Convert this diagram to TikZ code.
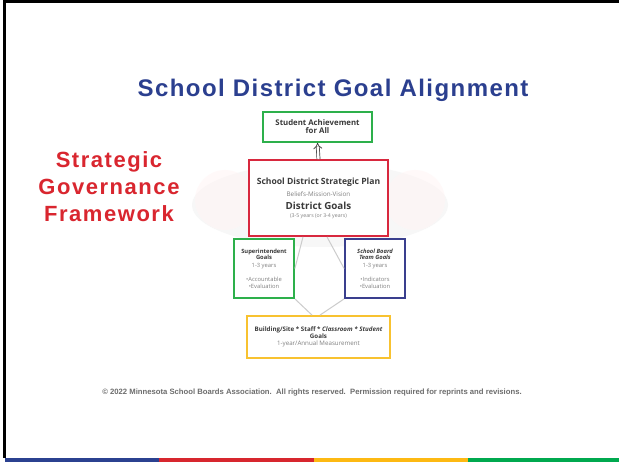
\documentclass[tikz,border=0pt]{standalone}
\usepackage{fontspec}
\setmainfont{Liberation Sans}
\newfontfamily\boxfont{Open Sans}
\usetikzlibrary{arrows.meta,calc}
\definecolor{ttlblue}{HTML}{2B3F8F}
\definecolor{sgred}{HTML}{D9262F}
\definecolor{bxgreen}{HTML}{2DB04B}
\definecolor{bxred}{HTML}{D8283E}
\definecolor{bxblue}{HTML}{3A3F8E}
\definecolor{bxyellow}{HTML}{F8C230}
\definecolor{stblue}{HTML}{2B4190}
\definecolor{stred}{HTML}{D7262E}
\definecolor{styellow}{HTML}{FDB913}
\definecolor{stgreen}{HTML}{00A94F}
\definecolor{txtgray}{HTML}{3A3A3A}
\begin{document}
\begin{tikzpicture}[x=1pt,y=-1pt,
  gbox/.style={draw, line width=1.8pt, fill=white, inner sep=1pt, align=center, text=txtgray},
  conn/.style={draw=gray!40, line width=1pt}]
\useasboundingbox (0,0) rectangle (619,462);
\fill[white] (0,0) rectangle (619,462);
% faint watermark
\fill[gray!6] (320,205) ellipse (128 and 42);
\fill[red!4, opacity=0.5] (225,200) ellipse (30 and 30);
\fill[red!4, opacity=0.5] (415,200) ellipse (30 and 30);
% frame
\draw[black, line width=3pt] (4.5,458) -- (4.5,1.5) -- (619,1.5);
% bottom stripe
\fill[stblue] (5,458) rectangle (159,462);
\fill[stred] (159,458) rectangle (314,462);
\fill[styellow] (314,458) rectangle (468,462);
\fill[stgreen] (468,458) rectangle (619,462);
% title
\node[font=\fontsize{24}{28}\selectfont\bfseries\addfontfeature{LetterSpace=6}, text=ttlblue] (title) at (333,90) {School District Goal Alignment};
\node[font=\fontsize{22}{27}\selectfont\bfseries\addfontfeature{LetterSpace=7}, text=sgred, align=center] (sgf) at (109,187) {Strategic\\Governance\\Framework};
% boxes
\node[gbox, draw=bxgreen, minimum width=109pt, minimum height=30pt,
      font=\boxfont\fontsize{7.8}{8}\selectfont\bfseries] (top) at (317.5,127)
  {Student Achievement\\for All};
\node[gbox, draw=bxred, minimum width=139pt, minimum height=76pt,
      font=\boxfont\fontsize{8}{8}\selectfont] (plan) at (318.5,198)
  {\fontsize{8.6}{8}\selectfont\bfseries School District Strategic Plan\\[4pt]
   \fontsize{6.3}{8}\selectfont\color{gray} Beliefs-Mission-Vision\\[5pt]
   \fontsize{9.8}{8}\selectfont\bfseries District Goals\\[0pt]
   \fontsize{5.2}{8}\selectfont\color{gray} (3-5 years (or 3-4 years)};
\node[gbox, draw=bxgreen, minimum width=60pt, minimum height=59pt,
      font=\boxfont\fontsize{5.8}{6.8}\selectfont] (supt) at (264,268.5)
  {\bfseries Superintendent\\\bfseries Goals\\[1pt]
   \color{gray} 1-3 years\\[7pt]
   \color{gray} •Accountable\\\color{gray} •Evaluation};
\node[gbox, draw=bxblue, minimum width=60pt, minimum height=59pt,
      font=\boxfont\fontsize{5.8}{6.8}\selectfont] (board) at (375,268.5)
  {\bfseries\itshape School Board\\\bfseries\itshape Team Goals\\[1pt]
   \color{gray} 1-3 years\\[7pt]
   \color{gray} •Indicators\\\color{gray} •Evaluation};
\node[gbox, draw=bxyellow, minimum width=143pt, minimum height=42pt,
      font=\boxfont\fontsize{6.2}{7}\selectfont] (bldg) at (318.5,337)
  {\bfseries Building/Site * Staff * \itshape Classroom * Student\\
   \bfseries Goals\\
   \color{gray} 1-year/Annual Measurement};
% connectors
\draw[conn] ($(plan.south)+(-15.5,0)$) -- (supt.east);
\draw[conn] (supt.south east) -- ($(bldg.north)+(-6.5,0)$);
\draw[conn] ($(plan.south)+(8.5,0)$) -- (board.west);
\draw[conn] (board.south west) -- ($(bldg.north)+(1.5,0)$);
\draw[double=white, draw=txtgray, double distance=2.4pt, line width=0.7pt, -{Implies}] (plan.north) -- (top.south);
% footer
\node[font=\fontsize{7.7}{9}\selectfont\bfseries, text=gray!85!black] (foot) at (312,393)
  {© 2022 Minnesota School Boards Association.\ \ All rights reserved.\ \ Permission required for reprints and revisions.};
\end{tikzpicture}
\end{document}
